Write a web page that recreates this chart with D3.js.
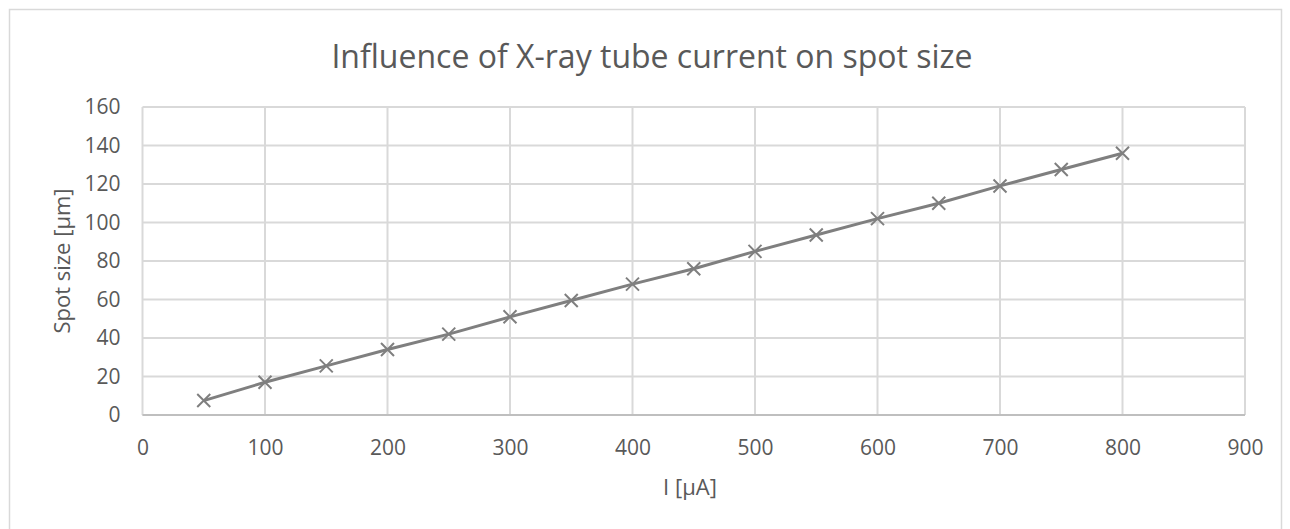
<!DOCTYPE html>
<html>
<head>
<meta charset="utf-8">
<script src="https://cdn.jsdelivr.net/npm/d3@7"></script>
<style>
  body { margin: 0; background: #fff; }
  text { font-family: "Open Sans", sans-serif; fill: #595959; }
</style>
</head>
<body>
<div id="chart-container"></div>
<script>
// data
var currents = [50, 100, 150, 200, 250, 300, 350, 400, 450, 500, 550, 600, 650, 700, 750, 800];
var spotSizes = [7.5, 17, 25.5, 34, 42, 51, 59.5, 68, 76, 85, 93.5, 102, 110, 119, 127.5, 136];
var xTicks = [0, 100, 200, 300, 400, 500, 600, 700, 800, 900];
var yTicks = [0, 20, 40, 60, 80, 100, 120, 140, 160];

var w = 1290, h = 529;
var pLeft = 142.5, pRight = 1245, pTop = 107, pBottom = 415;

var svg = d3.select("#chart-container").append("svg")
    .attr("width", w).attr("height", h);

// outer chart border
svg.append("rect")
    .attr("x", 9.5).attr("y", 9.5)
    .attr("width", 1272).attr("height", 540)
    .attr("fill", "none").attr("stroke", "#d9d9d9").attr("stroke-width", 1.5);

var xScale = d3.scaleLinear().domain([0, 900]).range([pLeft, pRight]);
var yScale = d3.scaleLinear().domain([0, 160]).range([pBottom, pTop]);

// gridlines
svg.append("g").selectAll("line.h")
    .data(yTicks).enter().append("line")
    .attr("x1", pLeft).attr("x2", pRight)
    .attr("y1", function(d){ return yScale(d); })
    .attr("y2", function(d){ return yScale(d); })
    .attr("stroke", "#d9d9d9").attr("stroke-width", 2);

svg.append("g").selectAll("line.v")
    .data(xTicks).enter().append("line")
    .attr("y1", pTop).attr("y2", pBottom)
    .attr("x1", function(d){ return xScale(d); })
    .attr("x2", function(d){ return xScale(d); })
    .attr("stroke", "#d9d9d9").attr("stroke-width", 2);

// axes (labels only)
var yAxis = d3.axisLeft(yScale).tickValues(yTicks).tickSize(0).tickPadding(22);
var xAxis = d3.axisBottom(xScale).tickValues(xTicks).tickSize(0).tickPadding(25);

svg.append("g")
    .attr("transform", "translate(" + pLeft + ",0)")
    .call(yAxis)
    .call(function(g){ g.select(".domain").remove(); })
    .selectAll("text").style("font-size", "21px").attr("fill", "#595959");

svg.append("g")
    .attr("transform", "translate(0," + pBottom + ")")
    .call(xAxis)
    .call(function(g){ g.select(".domain").remove(); })
    .selectAll("text").style("font-size", "21px").attr("fill", "#595959");

// bottom axis line slightly darker
svg.append("line")
    .attr("x1", pLeft).attr("x2", pRight)
    .attr("y1", pBottom).attr("y2", pBottom)
    .attr("stroke", "#bfbfbf").attr("stroke-width", 2);

var data = currents.map(function(c, i){ return {x: c, y: spotSizes[i]}; });

var line = d3.line()
    .x(function(d){ return xScale(d.x); })
    .y(function(d){ return yScale(d.y); });

svg.append("path")
    .datum(data)
    .attr("d", line)
    .attr("fill", "none")
    .attr("stroke", "#7f7f7f")
    .attr("stroke-width", 3);

// x markers
var s = 6.5;
svg.append("g").selectAll("path.m")
    .data(data).enter().append("path")
    .attr("d", function(d){
        var cx = xScale(d.x), cy = yScale(d.y);
        return "M" + (cx - s) + "," + (cy - s) + "L" + (cx + s) + "," + (cy + s) +
               "M" + (cx - s) + "," + (cy + s) + "L" + (cx + s) + "," + (cy - s);
    })
    .attr("stroke", "#7f7f7f").attr("stroke-width", 2).attr("fill", "none");

// titles
svg.append("text")
    .attr("x", 652).attr("y", 68)
    .attr("text-anchor", "middle")
    .style("font-size", "32px")
    .text("Influence of X-ray tube current on spot size");

svg.append("text")
    .attr("x", 690).attr("y", 495)
    .attr("text-anchor", "middle")
    .style("font-size", "22px")
    .text("I [µA]");

svg.append("text")
    .attr("transform", "translate(70," + ((pTop + pBottom) / 2) + ") rotate(-90)")
    .attr("text-anchor", "middle")
    .style("font-size", "22px")
    .text("Spot size [µm]");
</script>
</body>
</html>
